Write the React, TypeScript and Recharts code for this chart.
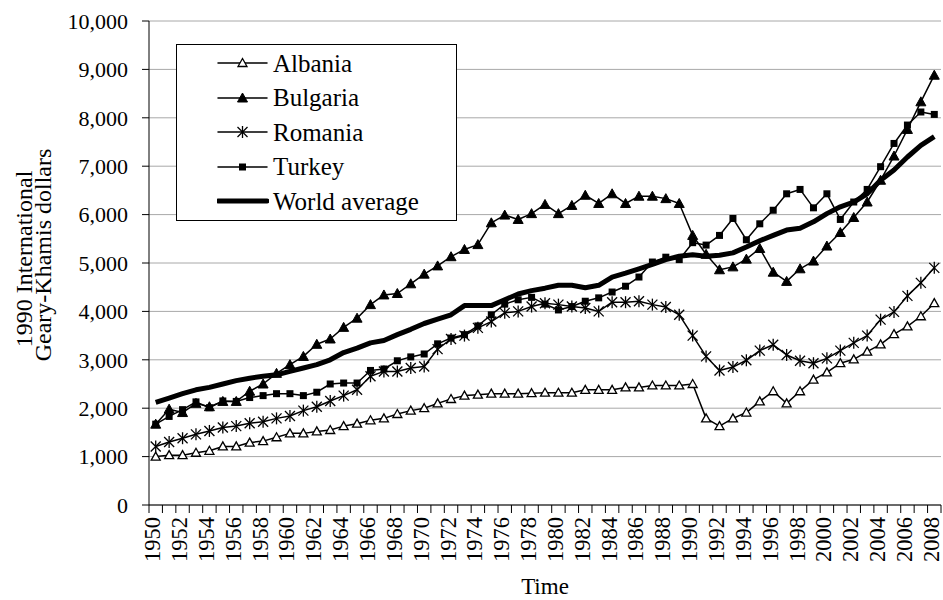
import React from "react";
import { CartesianGrid, Line, LineChart, XAxis, YAxis } from "recharts";

const years = [
  1950, 1951, 1952, 1953, 1954, 1955, 1956, 1957, 1958, 1959,
  1960, 1961, 1962, 1963, 1964, 1965, 1966, 1967, 1968, 1969,
  1970, 1971, 1972, 1973, 1974, 1975, 1976, 1977, 1978, 1979,
  1980, 1981, 1982, 1983, 1984, 1985, 1986, 1987, 1988, 1989,
  1990, 1991, 1992, 1993, 1994, 1995, 1996, 1997, 1998, 1999,
  2000, 2001, 2002, 2003, 2004, 2005, 2006, 2007, 2008,
];

const albania = [
  1000, 1030, 1030, 1080, 1120, 1210, 1210, 1290, 1320, 1400,
  1480, 1480, 1520, 1550, 1630, 1680, 1750, 1790, 1880, 1950,
  2000, 2100, 2190, 2260, 2280, 2300, 2300, 2300, 2310, 2320,
  2320, 2320, 2380, 2380, 2380, 2430, 2430, 2470, 2470, 2470,
  2500, 1790, 1630, 1790, 1910, 2140, 2350, 2100, 2350, 2590,
  2740, 2930, 3010, 3170, 3320, 3530, 3690, 3900, 4170,
];

const bulgaria = [
  1670, 1980, 1910, 2100, 2030, 2140, 2140, 2350, 2500, 2720,
  2900, 3070, 3320, 3430, 3670, 3860, 4140, 4340, 4370, 4570,
  4770, 4940, 5130, 5280, 5380, 5830, 5990, 5900, 6020, 6210,
  6020, 6190, 6400, 6230, 6430, 6230, 6380, 6380, 6330, 6230,
  5570, 5180, 4860, 4920, 5080, 5300, 4810, 4620, 4880, 5040,
  5350, 5630, 5940, 6260, 6710, 7210, 7760, 8330, 8880,
];

const romania = [
  1210, 1300, 1380, 1460, 1530, 1600, 1630, 1690, 1720, 1790,
  1840, 1950, 2030, 2150, 2260, 2380, 2660, 2760, 2760, 2830,
  2860, 3220, 3430, 3500, 3660, 3790, 3970, 4000, 4100, 4170,
  4140, 4100, 4070, 4000, 4190, 4190, 4210, 4140, 4090, 3930,
  3500, 3070, 2780, 2850, 2990, 3190, 3310, 3100, 2980, 2930,
  3030, 3190, 3350, 3500, 3830, 3990, 4320, 4590, 4900,
];

const turkey = [
  1670, 1830, 1970, 2130, 2010, 2150, 2140, 2220, 2260, 2300,
  2300, 2260, 2330, 2500, 2520, 2520, 2780, 2810, 2980, 3060,
  3120, 3330, 3450, 3520, 3700, 3930, 4150, 4240, 4290, 4150,
  4030, 4100, 4210, 4280, 4400, 4520, 4710, 5020, 5120, 5070,
  5420, 5370, 5570, 5920, 5480, 5810, 6090, 6430, 6520, 6140,
  6430, 5900, 6260, 6520, 6990, 7470, 7850, 8120, 8070,
];

const world = [
  2120, 2210, 2300, 2380, 2430, 2500, 2570, 2620, 2660, 2690,
  2760, 2830, 2900, 3000, 3150, 3240, 3350, 3400, 3520, 3630,
  3750, 3840, 3930, 4120, 4120, 4120, 4240, 4360, 4430, 4480,
  4540, 4540, 4490, 4540, 4710, 4790, 4880, 4970, 5070, 5140,
  5170, 5140, 5160, 5210, 5330, 5460, 5570, 5680, 5720, 5850,
  6020, 6160, 6260, 6430, 6710, 6920, 7190, 7430, 7610,
];

const yTicks = [0, 1000, 2000, 3000, 4000, 5000, 6000, 7000, 8000, 9000, 10000];

type MarkerKind = "openTriangle" | "triangle" | "star" | "square" | "none";

const series: { key: string; name: string; marker: MarkerKind; width: number }[] = [
  { key: "albania", name: "Albania", marker: "openTriangle", width: 1.5 },
  { key: "bulgaria", name: "Bulgaria", marker: "triangle", width: 1.5 },
  { key: "romania", name: "Romania", marker: "star", width: 1.5 },
  { key: "turkey", name: "Turkey", marker: "square", width: 1.5 },
  { key: "world", name: "World average", marker: "none", width: 5 },
];

const data = years.map((year, i) => ({
  year,
  albania: albania[i],
  bulgaria: bulgaria[i],
  romania: romania[i],
  turkey: turkey[i],
  world: world[i],
}));

const FONT = '"Liberation Serif", "Times New Roman", serif';
const PLOT_LEFT = 149;
const PLOT_RIGHT = 941;
const BAND = (PLOT_RIGHT - PLOT_LEFT) / years.length;

function Marker({ kind, cx, cy }: { kind: MarkerKind; cx: number; cy: number }) {
  if (kind === "openTriangle") {
    return (
      <polygon
        points={`${cx},${cy - 4.5} ${cx + 4.5},${cy + 3.5} ${cx - 4.5},${cy + 3.5}`}
        fill="#fff"
        stroke="#000"
        strokeWidth={1.3}
      />
    );
  }
  if (kind === "triangle") {
    return (
      <polygon
        points={`${cx},${cy - 5} ${cx + 5},${cy + 4} ${cx - 5},${cy + 4}`}
        fill="#000"
        stroke="#000"
        strokeWidth={1}
      />
    );
  }
  if (kind === "star") {
    return (
      <g stroke="#000" strokeWidth={1.3}>
        <line x1={cx} y1={cy - 6} x2={cx} y2={cy + 6} />
        <line x1={cx - 5} y1={cy - 5} x2={cx + 5} y2={cy + 5} />
        <line x1={cx - 5} y1={cy + 5} x2={cx + 5} y2={cy - 5} />
      </g>
    );
  }
  if (kind === "square") {
    return <rect x={cx - 3.5} y={cy - 3.5} width={7} height={7} fill="#000" />;
  }
  return null;
}

function YearTick(props: any) {
  const { x, y, payload, index } = props;
  const year = payload.value as number;
  const left = x - BAND / 2;
  return (
    <g>
      <line x1={left} x2={left} y1={y} y2={y + 8} stroke="#000" />
      {index === years.length - 1 && (
        <line x1={x + BAND / 2} x2={x + BAND / 2} y1={y} y2={y + 8} stroke="#000" />
      )}
      {year % 2 === 0 && (
        <text
          x={x}
          y={y + 12}
          dy={4.5}
          transform={`rotate(-90, ${x}, ${y + 12})`}
          textAnchor="end"
          fontSize={22.5}
          fontFamily={FONT}
          fill="#000"
        >
          {year}
        </text>
      )}
    </g>
  );
}

function YLabel() {
  return (
    <g fontFamily={FONT} fontSize={24} fill="#000">
      <text x={32} y={259} textAnchor="middle" transform="rotate(-90, 32, 259)">
        1990 International
      </text>
      <text x={51} y={255} textAnchor="middle" transform="rotate(-90, 51, 255)">
        Geary-Khamis dollars
      </text>
    </g>
  );
}

function LegendBox() {
  return (
    <div
      style={{
        position: "absolute",
        left: 176,
        top: 44,
        width: 281,
        height: 177,
        boxSizing: "border-box",
        border: "1px solid #000",
        background: "#fff",
        paddingTop: 1,
        fontFamily: FONT,
        fontSize: 25,
        color: "#000",
      }}
    >
      {series.map((s) => (
        <div key={s.key} style={{ display: "flex", alignItems: "center", height: 34.5 }}>
          <svg width={52} height={20} style={{ marginLeft: 40, display: "block" }}>
            <line x1={1} x2={50} y1={10} y2={10} stroke="#000" strokeWidth={s.width} strokeLinecap="round" />
            <Marker kind={s.marker} cx={25.5} cy={10} />
          </svg>
          <span style={{ marginLeft: 4, lineHeight: 1 }}>{s.name}</span>
        </div>
      ))}
    </div>
  );
}

export default function App() {
  return (
    <div style={{ position: "absolute", left: 0, top: 0, width: 943, height: 600, background: "#fff" }}>
      <LineChart width={943} height={600} data={data} margin={{ top: 21, right: 943 - PLOT_RIGHT, left: 0, bottom: 0 }}>
        <CartesianGrid vertical={false} stroke="#a8a8a8" />
        <XAxis
          dataKey="year"
          height={95}
          interval={0}
          tickSize={0}
          tickMargin={0}
          tickLine={false}
          axisLine={{ stroke: "#000" }}
          padding={{ left: BAND / 2, right: BAND / 2 }}
          tick={<YearTick />}
          label={{ value: "Time", position: "insideBottom", offset: 6, fontSize: 23, fontFamily: FONT, fill: "#000" }}
        />
        <YAxis
          width={PLOT_LEFT}
          domain={[0, 10000]}
          ticks={yTicks}
          interval={0}
          tickSize={7}
          tickMargin={14}
          tickFormatter={(v: number) => v.toLocaleString("en-US")}
          tick={{ fontSize: 22, fontFamily: FONT, fill: "#000" }}
          tickLine={{ stroke: "#000" }}
          axisLine={{ stroke: "#000" }}
          label={{ content: () => <YLabel /> }}
        />
        <YAxis
          yAxisId="frame"
          orientation="right"
          width={0}
          tick={false}
          tickLine={false}
          axisLine={{ stroke: "#a8a8a8" }}
        />
        {series.map((s) => (
          <Line
            key={s.key}
            type="linear"
            dataKey={s.key}
            name={s.name}
            stroke="#000"
            strokeWidth={s.width}
            strokeLinejoin="round"
            dot={s.marker === "none" ? false : (p: any) => <Marker key={p.index} kind={s.marker} cx={p.cx} cy={p.cy} />}
            activeDot={false}
            isAnimationActive={false}
          />
        ))}
      </LineChart>
      <LegendBox />
    </div>
  );
}
